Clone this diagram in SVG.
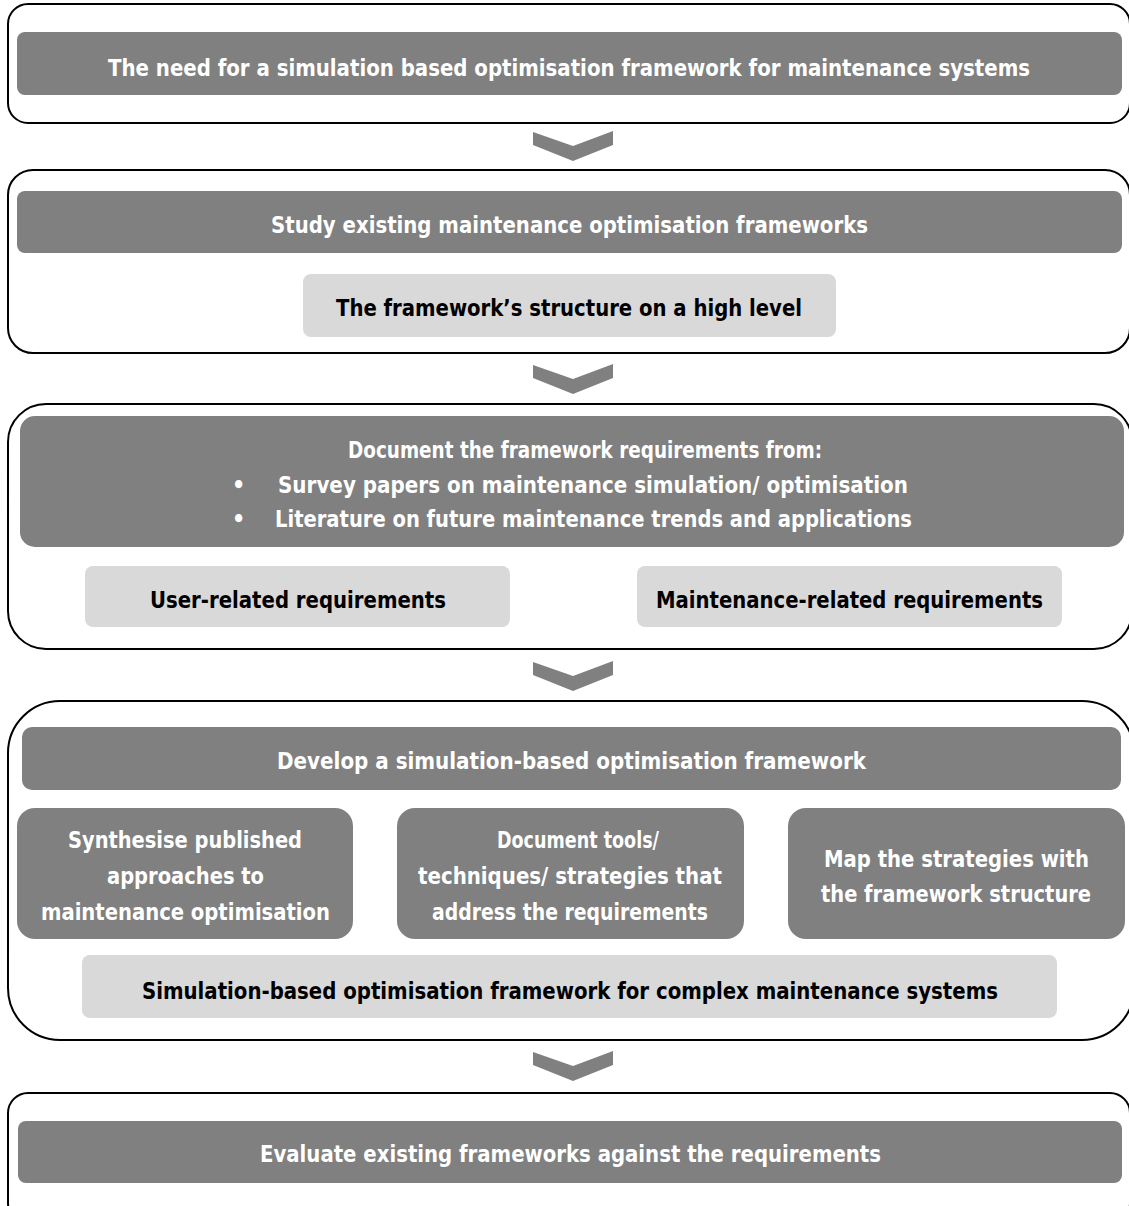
<svg xmlns="http://www.w3.org/2000/svg" width="1129" height="1206" viewBox="0 0 1129 1206">
<style>
.outer{fill:#fff;stroke:#000;stroke-width:2}
.dark{fill:#808080}
.light{fill:#d9d9d9}
.chev{fill:#808080}
text{font-family:"Liberation Sans Narrow","DejaVu Sans Condensed","Liberation Sans",sans-serif;font-weight:bold;font-size:23px;text-anchor:start}
.w{fill:#fff}
.b{fill:#000}
</style>
<rect width="1129" height="1206" fill="#fff"/>
<g id="connectors">
<polygon class="chev" points="533,132 573,146 613,131 613,145 573,161 533,145"/>
<polygon class="chev" points="533,365 573,379 613,364 613,378 573,394 533,378"/>
<polygon class="chev" points="533,662 573,676 613,661 613,675 573,691 533,675"/>
<polygon class="chev" points="533,1052 573,1066 613,1051 613,1065 573,1081 533,1065"/>
</g>
<g id="stage1">
<rect class="outer" x="8" y="4" width="1122" height="119" rx="20"/>
<g id="n1"><rect class="dark" x="17" y="32" width="1105" height="63" rx="8"/>
<text class="w" x="108" y="76" textLength="922" lengthAdjust="spacingAndGlyphs">The need for a simulation based optimisation framework for maintenance systems</text></g>
</g>
<g id="stage2">
<rect class="outer" x="8" y="170" width="1122" height="183" rx="25"/>
<g id="n2"><rect class="dark" x="17" y="191" width="1105" height="62" rx="8"/>
<text class="w" x="271" y="233" textLength="597" lengthAdjust="spacingAndGlyphs">Study existing maintenance optimisation frameworks</text></g>
<g id="n3"><rect class="light" x="303" y="274" width="533" height="63" rx="8"/>
<text class="b" x="336" y="316" textLength="466" lengthAdjust="spacingAndGlyphs">The framework’s structure on a high level</text></g>
</g>
<g id="stage3">
<rect class="outer" x="8" y="404" width="1124" height="245" rx="38"/>
<g id="n4"><rect class="dark" x="20" y="416" width="1104" height="131" rx="15"/>
<text class="w" x="348" y="458" textLength="474" lengthAdjust="spacingAndGlyphs">Document the framework requirements from:</text>
<text class="w" x="232" y="493">•</text>
<text class="w" x="278" y="493" textLength="630" lengthAdjust="spacingAndGlyphs">Survey papers on maintenance simulation/ optimisation</text>
<text class="w" x="232" y="527">•</text>
<text class="w" x="275" y="527" textLength="637" lengthAdjust="spacingAndGlyphs">Literature on future maintenance trends and applications</text></g>
<g id="n5"><rect class="light" x="85" y="566" width="425" height="61" rx="8"/>
<text class="b" x="150" y="608" textLength="296" lengthAdjust="spacingAndGlyphs">User-related requirements</text></g>
<g id="n6"><rect class="light" x="637" y="566" width="425" height="61" rx="8"/>
<text class="b" x="656" y="608" textLength="387" lengthAdjust="spacingAndGlyphs">Maintenance-related requirements</text></g>
</g>
<g id="stage4">
<rect class="outer" x="8" y="701" width="1126" height="339" rx="52"/>
<g id="n7"><rect class="dark" x="22" y="727" width="1099" height="63" rx="10"/>
<text class="w" x="277" y="769" textLength="589" lengthAdjust="spacingAndGlyphs">Develop a simulation-based optimisation framework</text></g>
<g id="n8"><rect class="dark" x="17" y="808" width="336" height="131" rx="18"/>
<text class="w" x="68" y="848" textLength="234" lengthAdjust="spacingAndGlyphs">Synthesise published</text>
<text class="w" x="107" y="884" textLength="157" lengthAdjust="spacingAndGlyphs">approaches to</text>
<text class="w" x="41" y="920" textLength="289" lengthAdjust="spacingAndGlyphs">maintenance optimisation</text></g>
<g id="n9"><rect class="dark" x="397" y="808" width="347" height="131" rx="18"/>
<text class="w" x="497" y="848" textLength="162" lengthAdjust="spacingAndGlyphs">Document tools/</text>
<text class="w" x="418" y="884" textLength="304" lengthAdjust="spacingAndGlyphs">techniques/ strategies that</text>
<text class="w" x="432" y="920" textLength="276" lengthAdjust="spacingAndGlyphs">address the requirements</text></g>
<g id="n10"><rect class="dark" x="788" y="808" width="337" height="131" rx="18"/>
<text class="w" x="824" y="867" textLength="265" lengthAdjust="spacingAndGlyphs">Map the strategies with</text>
<text class="w" x="821" y="902" textLength="270" lengthAdjust="spacingAndGlyphs">the framework structure</text></g>
<g id="n11"><rect class="light" x="82" y="955" width="975" height="63" rx="8"/>
<text class="b" x="142" y="999" textLength="856" lengthAdjust="spacingAndGlyphs">Simulation-based optimisation framework for complex maintenance systems</text></g>
</g>
<g id="stage5">
<rect class="outer" x="8" y="1093" width="1122" height="130" rx="20"/>
<g id="n12"><rect class="dark" x="18" y="1121" width="1104" height="62" rx="8"/>
<text class="w" x="260" y="1162" textLength="621" lengthAdjust="spacingAndGlyphs">Evaluate existing frameworks against the requirements</text></g>
</g>
</svg>
